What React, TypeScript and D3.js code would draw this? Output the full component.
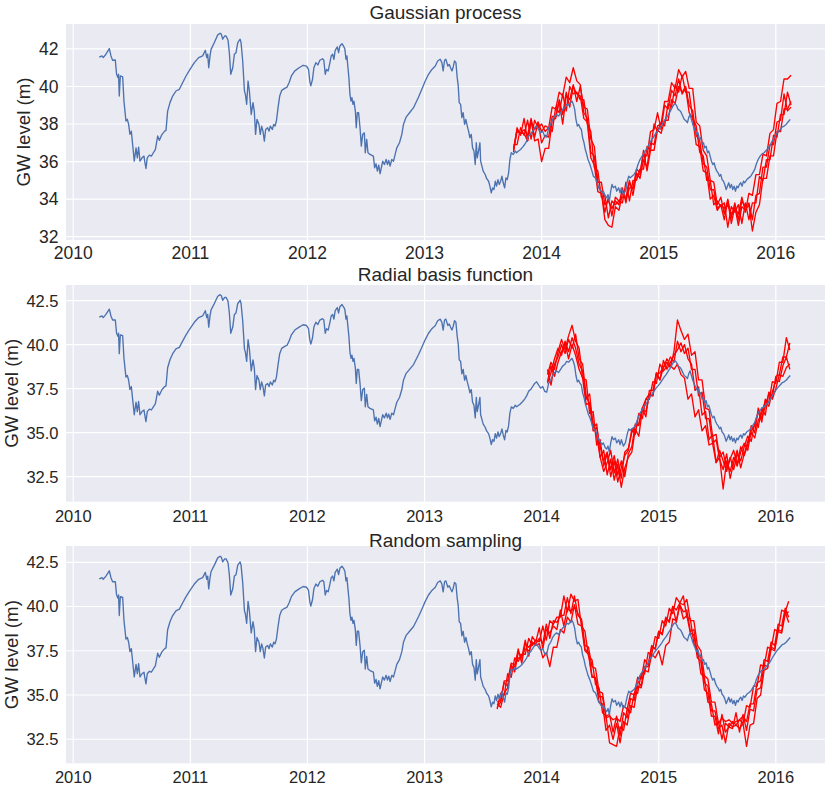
import React from 'react';
import * as d3 from 'd3';

// ---------- DATA ----------
// observed groundwater level: [decimal year, level (m)]
const observed: [number, number][] = [
[2010.222,41.56],[2010.245,41.63],[2010.256,41.54],[2010.279,41.72],[2010.308,42.02],[2010.322,41.63],[2010.336,41.40],[2010.359,41.41],[2010.370,40.65],[2010.382,40.47],[2010.387,40.65],[2010.393,39.49],[2010.402,40.56],[2010.422,40.51],[2010.433,39.22],[2010.450,38.16],[2010.462,38.25],[2010.473,37.98],[2010.484,37.45],[2010.496,37.62],[2010.507,36.91],[2010.521,36.02],[2010.536,36.73],[2010.547,36.20],[2010.558,36.77],[2010.570,36.02],[2010.587,36.20],[2010.604,36.29],[2010.610,36.02],[2010.621,35.63],[2010.632,36.20],[2010.650,36.34],[2010.667,36.29],[2010.684,36.47],[2010.701,36.64],[2010.721,37.36],[2010.735,37.13],[2010.758,37.45],[2010.781,37.62],[2010.792,37.66],[2010.806,38.69],[2010.826,39.14],[2010.849,39.49],[2010.877,39.76],[2010.906,39.85],[2010.934,40.20],[2010.963,40.56],[2010.997,40.91],[2011.034,41.27],[2011.071,41.54],[2011.105,41.63],[2011.128,41.93],[2011.140,41.54],[2011.148,41.72],[2011.157,41.00],[2011.168,41.63],[2011.177,41.98],[2011.205,42.34],[2011.234,42.75],[2011.254,42.84],[2011.265,42.78],[2011.276,42.52],[2011.293,42.69],[2011.305,42.69],[2011.322,42.46],[2011.333,41.80],[2011.345,40.65],[2011.362,41.00],[2011.376,41.72],[2011.390,41.80],[2011.405,42.34],[2011.425,42.52],[2011.433,42.34],[2011.447,41.36],[2011.462,39.76],[2011.470,39.58],[2011.481,39.05],[2011.493,40.29],[2011.504,39.76],
[2011.520,38.51],[2011.535,39.14],[2011.546,38.69],[2011.557,37.45],[2011.569,38.25],[2011.586,37.98],[2011.597,37.45],[2011.609,37.89],[2011.620,37.62],[2011.632,37.09],[2011.643,37.71],[2011.660,37.80],[2011.672,37.62],[2011.683,37.89],[2011.700,37.71],[2011.712,37.98],[2011.723,37.89],[2011.735,38.16],[2011.749,38.87],[2011.763,39.49],[2011.780,39.79],[2011.806,39.90],[2011.826,39.97],[2011.843,40.20],[2011.863,40.56],[2011.892,40.83],[2011.929,41.00],[2011.963,41.13],[2011.992,41.09],[2012.009,40.91],[2012.020,40.29],[2012.029,40.03],[2012.043,40.38],[2012.055,41.00],[2012.072,41.27],[2012.089,41.15],[2012.106,41.40],[2012.129,41.48],[2012.140,41.40],[2012.152,40.65],[2012.163,40.91],[2012.177,40.83],[2012.192,41.27],[2012.203,41.63],[2012.215,41.72],[2012.226,41.45],[2012.237,41.93],[2012.255,42.11],[2012.266,41.80],[2012.277,42.16],[2012.295,42.28],[2012.312,42.11],[2012.320,41.98],[2012.329,41.45],[2012.337,41.63],[2012.346,41.00],[2012.354,40.47],[2012.363,39.58],[2012.372,39.22],[2012.380,39.40],[2012.389,39.05],[2012.397,39.22],[2012.409,38.69],[2012.417,37.80],[2012.426,38.60],[2012.437,38.60],[2012.449,37.80],[2012.460,36.82],[2012.472,37.45],[2012.486,37.53],[2012.494,36.47],[2012.506,37.18],[2012.517,36.47],[2012.534,36.38],[2012.563,36.29],[2012.574,35.67],[2012.586,35.88],[2012.597,35.49],[2012.609,35.81],[2012.620,35.35],[2012.631,35.67],[2012.643,36.02],[2012.657,35.84],[2012.672,36.11],[2012.683,35.84],[2012.694,36.06],[2012.706,35.76],[2012.720,36.11],[2012.735,36.02],[2012.749,36.38],[2012.763,36.73],[2012.786,37.00],[2012.806,37.45],[2012.820,37.98],[2012.843,38.37],[2012.872,38.60],[2012.906,38.87],[2012.949,39.44],[2012.977,39.85],[2013.006,40.29],[2013.034,40.65],[2013.063,40.91],[2013.092,41.09],[2013.112,41.36],[2013.134,41.45],
[2013.148,41.27],[2013.159,40.83],[2013.171,41.40],[2013.182,41.45],[2013.199,41.09],[2013.211,41.18],[2013.222,41.00],[2013.234,40.83],[2013.245,41.04],[2013.256,41.36],[2013.268,41.27],[2013.279,40.47],[2013.288,40.03],[2013.296,39.14],[2013.308,39.05],[2013.319,38.34],[2013.330,38.60],[2013.342,37.98],[2013.353,38.25],[2013.365,37.89],[2013.376,37.62],[2013.387,37.27],[2013.399,37.45],[2013.410,36.73],[2013.422,36.56],[2013.433,35.84],[2013.442,37.00],[2013.450,36.20],[2013.461,36.56],[2013.473,37.00],[2013.479,36.02],[2013.490,35.76],[2013.501,35.49],[2013.518,35.31],[2013.530,35.10],[2013.547,34.95],[2013.558,34.69],[2013.570,34.33],[2013.581,34.60],[2013.593,34.51],[2013.604,34.95],[2013.615,34.69],[2013.627,35.04],[2013.638,34.78],[2013.650,34.95],[2013.661,35.22],[2013.672,34.87],[2013.684,34.60],[2013.695,35.13],[2013.706,35.04],[2013.718,35.40],[2013.729,36.11],[2013.741,36.47],[2013.758,36.38],[2013.775,36.56],[2013.786,36.47],[2013.803,36.56],[2013.820,36.64],[2013.838,36.77],[2013.855,36.91],[2013.872,37.09],[2013.889,37.36],[2013.906,37.45],[2013.923,37.62],[2013.940,37.80],[2013.957,37.89],[2013.974,37.71],[2013.991,37.53],[2014.009,37.62],[2014.026,37.35],[2014.043,37.30],[2014.060,37.80],[2014.077,37.98],[2014.094,38.25],[2014.111,38.42],[2014.128,38.51],[2014.145,38.42],[2014.162,38.60],[2014.179,38.78],[2014.197,38.87],[2014.214,39.05],[2014.231,39.01],[2014.248,39.14],[2014.259,39.22],[2014.271,39.05],[2014.282,38.78],[2014.293,38.25],[2014.305,37.89],[2014.316,37.98],[2014.328,37.80],[2014.339,37.71],[2014.350,37.27],[2014.362,37.00],[2014.373,36.64],[2014.385,36.38],[2014.396,36.11],[2014.413,35.84],[2014.430,35.49],[2014.442,35.22],[2014.459,35.13],[2014.470,34.95],[2014.487,34.60],[2014.498,34.51],[2014.516,34.33],[2014.527,34.42],[2014.544,34.15],[2014.556,34.07],[2014.567,34.24],[2014.578,33.89],[2014.590,34.42],[2014.601,34.78],[2014.613,34.60],[2014.630,34.69],[2014.641,34.42],[2014.658,34.60],[2014.670,34.33],[2014.681,34.60],[2014.698,34.24],[2014.715,34.42],[2014.732,34.95],[2014.744,35.22],[2014.755,35.13],
[2014.772,35.22],[2014.789,35.31],[2014.806,35.49],[2014.823,35.84],[2014.840,36.11],[2014.858,36.29],[2014.875,36.47],[2014.892,36.64],[2014.909,36.82],[2014.926,37.05],[2014.943,37.18],[2014.960,37.36],[2014.977,37.53],[2014.994,37.66],[2015.011,37.80],[2015.029,37.98],[2015.046,38.16],[2015.063,38.30],[2015.080,38.48],[2015.097,38.66],[2015.114,38.87],[2015.131,39.05],[2015.142,39.08],[2015.154,38.96],[2015.165,38.78],[2015.177,38.73],[2015.188,38.66],[2015.199,38.51],[2015.217,38.25],[2015.234,38.16],[2015.245,38.07],[2015.256,38.34],[2015.268,38.51],[2015.279,38.25],[2015.291,37.98],[2015.302,37.80],[2015.313,37.62],[2015.325,37.45],[2015.336,37.53],[2015.348,37.18],[2015.359,37.27],[2015.370,36.91],[2015.382,37.00],[2015.393,36.73],[2015.405,36.82],[2015.416,36.47],[2015.427,36.56],[2015.439,36.29],[2015.450,36.02],[2015.462,35.84],[2015.473,35.93],[2015.484,35.67],[2015.496,35.49],[2015.507,35.40],[2015.519,35.22],[2015.530,35.31],[2015.541,35.04],[2015.553,34.95],[2015.564,34.78],[2015.576,34.51],[2015.587,34.69],[2015.598,34.87],[2015.610,34.60],[2015.621,34.78],[2015.632,34.51],[2015.644,34.69],[2015.655,34.42],[2015.667,34.69],[2015.678,34.60],[2015.689,34.78],[2015.701,34.87],[2015.712,34.69],[2015.724,34.95],[2015.735,34.87],[2015.752,35.04],[2015.769,35.13],[2015.786,35.22],[2015.803,35.40],[2015.820,35.58],[2015.832,35.84],[2015.849,36.11],[2015.866,36.29],[2015.883,36.41],[2015.900,36.47],[2015.917,36.59],[2015.934,36.70],[2015.952,36.88],[2015.969,37.09],[2015.986,37.27],[2016.003,37.45],[2016.020,37.59],[2016.037,37.71],[2016.054,37.84],[2016.071,37.89],[2016.088,37.98],[2016.106,38.12],[2016.123,38.25]
];

const yearTicks = [2010, 2011, 2012, 2013, 2014, 2015, 2016];
const gpLevelTicks = [32, 34, 36, 38, 40, 42];
const rbfLevelTicks = [32.5, 35.0, 37.5, 40.0, 42.5];
const rsLevelTicks = [32.5, 35.0, 37.5, 40.0, 42.5];

const titles = ['Gaussian process', 'Radial basis function', 'Random sampling'];
const yLabel = 'GW level (m)';

// forecast runs: first date and spacing (years) of the simulated dates
const forecastStep = 0.03;
const gpStart = 2013.76;
const rbfStart = 2014.05;
const rsStart = 2013.62;

const gpRuns: number[][] = [
  [36.6,37.6,37.5,37.5,37.1,38.2,37.1,37.2,36.0,36.7,
   36.7,38.2,38.3,39.2,38.0,39.5,39.3,40.1,39.2,40.0,
   38.9,38.8,37.2,36.8,34.9,34.9,33.7,33.9,33.5,33.9,
   33.7,34.6,33.8,34.9,34.5,35.6,35.4,36.4,36.3,37.6,
   37.7,38.6,37.7,39.0,38.8,39.8,39.5,40.4,39.6,39.9,
   38.6,38.3,36.9,36.8,35.5,35.4,34.0,34.2,33.4,33.7,
   33.5,33.7,33.2,33.5,33.2,34.1,33.3,34.3,34.2,35.3,
   35.3,36.4,36.3,37.5,37.7,39.1,39.2,40.4,40.4,40.6],
  [36.5,37.8,37.4,38.3,37.1,38.1,37.7,38.1,37.6,37.9,
   37.8,38.9,38.8,39.7,39.5,40.5,40.2,41.0,40.3,40.1,
   38.6,38.3,36.5,36.3,34.7,34.4,32.9,32.6,32.5,33.6,
   33.4,34.3,34.0,34.6,34.6,35.4,35.1,36.1,35.7,37.0,
   36.9,37.9,38.0,39.2,39.2,40.2,39.9,40.9,40.5,40.8,
   39.9,39.9,38.1,37.9,36.6,36.3,35.0,34.9,33.7,34.1,
   33.2,34.0,33.0,33.8,32.9,33.9,33.6,33.8,32.9,34.2,
   34.3,35.7,35.7,36.9,36.9,38.1,38.2,39.6,38.7,38.9],
  [36.9,36.9,37.8,37.4,38.2,37.2,38.2,37.8,38.0,37.6,
   37.8,37.6,38.9,38.6,39.6,38.7,40.0,39.6,39.7,39.3,
   39.3,38.0,37.6,35.7,35.5,34.1,34.2,33.0,33.9,33.7,
   33.9,33.8,34.9,33.9,35.0,35.0,35.6,35.6,36.8,36.6,
   38.0,37.6,38.1,37.9,39.1,38.9,40.1,39.7,40.6,39.7,
   39.7,38.3,37.9,36.5,36.3,35.0,35.0,33.7,33.9,33.6,
   33.8,32.5,33.6,33.3,33.7,32.7,33.8,32.9,33.8,33.8,
   35.2,35.0,36.1,36.1,37.4,37.3,38.5,38.5,39.7,39.0],
  [36.7,37.7,37.5,37.7,37.4,38.3,37.3,38.1,37.0,37.4,
   37.3,38.4,38.4,39.3,38.5,39.7,38.9,40.0,39.6,39.5,
   38.3,38.1,36.2,35.8,34.4,34.3,33.3,34.1,33.1,34.1,
   33.9,34.1,34.1,35.0,34.2,35.3,35.3,36.6,35.5,36.6,
   36.6,37.7,37.5,38.2,38.2,39.3,39.1,40.0,39.7,40.0,
   39.0,38.7,37.4,37.1,35.9,35.7,34.5,34.5,33.5,33.7,
   32.9,33.9,32.7,33.6,32.6,33.6,33.4,33.7,32.3,33.3,
   33.7,35.1,35.1,36.3,36.3,37.6,37.6,38.8,38.8,39.2],
];

const rbfRuns: number[][] = [
  [38.3,39.0,38.6,39.6,40.3,39.7,40.5,41.1,40.2,39.8,
   38.1,38.0,36.1,36.2,34.3,34.6,33.1,33.8,32.5,33.4,
   32.2,33.0,33.7,34.0,35.2,34.9,36.1,35.8,36.9,36.9,
   37.9,37.8,38.9,38.5,38.8,39.3,39.0,40.2,39.6,40.0,
   39.2,38.9,37.4,37.6,36.0,36.2,34.6,34.9,33.3,33.6,
   31.8,33.4,32.8,33.6,33.1,33.9,34.4,34.0,35.1,35.4,
   36.2,35.6,36.9,36.7,37.9,37.8,39.0,39.0,40.4,39.7],
  [37.8,38.4,39.2,39.8,39.4,40.2,39.6,40.4,39.8,38.9,
   38.5,36.9,37.2,35.3,35.5,33.6,34.0,32.6,33.5,32.3,
   33.2,31.9,33.0,33.6,33.9,35.2,34.8,36.3,36.2,37.1,
   37.1,38.3,38.4,38.7,39.0,38.7,39.6,41.4,40.8,40.3,
   40.6,39.4,39.6,38.0,38.0,36.4,36.3,34.8,34.9,33.6,
   33.9,33.0,33.6,32.9,33.8,33.4,34.2,34.8,34.5,35.6,
   35.3,36.4,36.0,37.3,37.0,38.2,38.3,39.3,39.3,40.1],
  [38.6,37.7,38.9,39.3,40.0,39.5,40.3,39.8,40.6,39.2,
   38.9,37.1,36.6,35.1,35.3,34.2,33.4,33.9,32.9,33.7,
   32.6,33.4,32.5,33.8,34.2,35.5,35.4,36.4,35.9,37.4,
   37.4,38.4,38.0,39.1,38.6,39.0,39.4,39.7,40.1,39.5,
   39.8,38.6,38.6,37.1,37.3,35.8,35.8,34.4,34.6,33.5,
   32.9,33.8,32.4,33.3,34.0,33.0,33.8,34.5,35.0,34.7,
   35.7,36.1,36.8,36.5,37.3,38.0,37.9,38.8,39.3,38.6],
  [37.9,38.8,38.2,39.0,39.6,40.1,39.2,40.0,39.4,38.6,
   38.1,36.6,36.7,35.5,34.8,33.6,32.8,33.3,34.0,32.7,
   33.5,32.4,33.9,34.1,35.0,35.4,35.5,36.4,36.9,37.2,
   37.1,38.4,38.0,38.7,39.2,38.8,38.6,38.9,38.3,38.1,
   36.9,37.2,35.9,36.3,35.1,35.4,34.3,34.4,33.3,34.0,
   33.4,32.8,33.5,34.0,33.2,34.2,33.7,34.3,35.4,35.0,
   36.4,35.8,36.5,37.2,36.9,37.5,38.3,38.2,38.7,38.9],
];

const rsRuns: number[][] = [
  [34.2,35.1,35.0,36.2,36.0,37.1,36.9,37.3,37.3,38.2,
   37.8,38.1,38.0,38.9,38.1,39.2,39.0,39.4,39.4,40.6,
   39.7,40.7,40.3,40.4,38.9,38.6,37.2,37.0,35.6,35.4,
   34.0,33.8,32.3,32.2,32.1,33.2,33.0,34.2,34.0,35.1,
   35.1,36.2,36.2,37.4,37.3,38.3,38.2,39.2,38.9,39.9,
   39.6,40.5,40.2,40.6,39.4,39.3,37.9,37.6,36.2,36.0,
   34.6,34.5,33.3,33.5,32.5,33.4,33.2,33.5,33.3,33.6,
   33.4,34.4,34.3,35.5,35.5,36.7,36.6,37.7,37.6,38.7,
   38.6,39.8,39.7,40.3],
  [34.5,34.3,35.1,35.4,36.7,36.3,37.4,37.2,37.6,37.5,
   37.9,37.9,38.2,37.9,39.0,38.2,39.2,39.1,39.5,39.5,
   40.5,39.6,40.6,39.5,39.3,37.8,37.7,36.6,36.5,35.2,
   35.1,33.8,33.9,32.9,33.8,32.7,34.0,33.7,34.8,34.7,
   35.8,35.5,36.6,36.6,37.7,37.6,38.6,38.4,39.4,39.1,
   40.0,39.8,40.2,40.1,40.4,39.2,39.2,37.8,37.5,36.1,
   35.9,34.6,34.6,33.4,33.7,33.5,33.6,33.4,33.5,33.6,
   33.8,33.5,34.5,34.5,35.7,35.8,37.0,36.9,38.0,37.8,
   39.0,38.9,39.9,39.4],
  [34.3,34.6,35.8,35.8,36.8,36.7,37.1,37.1,38.1,37.2,
   38.3,38.0,38.8,37.6,38.7,38.5,38.9,38.7,39.8,38.9,
   39.9,39.7,40.0,39.6,39.2,37.6,37.4,36.1,35.9,34.6,
   34.5,33.0,33.3,32.5,33.4,32.3,33.5,33.3,34.4,34.3,
   35.5,35.4,36.4,36.3,37.3,37.1,37.5,36.7,37.8,38.0,
   39.3,39.2,40.1,39.7,39.8,38.6,38.7,37.3,37.1,35.7,
   35.5,34.1,34.1,33.1,33.3,32.3,33.4,33.2,33.3,33.1,
   33.4,32.1,33.3,33.4,34.8,35.0,36.4,36.5,37.6,37.5,
   38.6,38.5,39.6,39.7],
  [34.6,34.7,35.7,35.5,36.5,36.6,37.6,36.8,37.9,37.7,
   38.0,37.8,37.9,37.1,37.4,36.6,37.7,37.7,38.7,38.5,
   39.4,39.1,40.1,39.0,38.9,37.5,37.3,36.0,36.0,34.9,
   34.9,33.7,33.8,33.6,33.7,33.5,34.4,34.2,35.1,35.0,
   36.0,35.9,37.0,36.7,37.8,37.6,38.6,38.5,39.3,39.2,
   40.0,39.1,40.1,39.3,39.5,38.5,38.4,37.1,36.9,35.3,
   35.1,33.8,33.8,32.8,33.9,32.9,33.2,33.1,34.0,32.9,
   33.9,33.0,34.2,34.1,35.3,35.4,36.7,36.6,37.7,37.6,
   38.7,38.6,39.7,39.1],
];

// ---------- LAYOUT ----------
const W = 830, H = 791;
const LEFT = 66, RIGHT = 825;
const X_DOMAIN: [number, number] = [2009.938, 2016.42];
const FONT = "'Liberation Sans', Arial, Helvetica, sans-serif";
const TEXT = '#262626';

const panels = [
  { title: titles[0], ticks: gpLevelTicks, fmt: d3.format('d'), start: gpStart, runs: gpRuns,
    top: 24, bottom: 240, yDomain: [31.82, 43.33], tickFont: 17.5, xTickGap: 18.5, labelX: 29.5, titleY: 19 },
  { title: titles[1], ticks: rbfLevelTicks, fmt: d3.format('.1f'), start: rbfStart, runs: rbfRuns,
    top: 285, bottom: 501.7, yDomain: [31.08, 43.39], tickFont: 16.5, xTickGap: 20, labelX: 18, titleY: 280.5 },
  { title: titles[2], ticks: rsLevelTicks, fmt: d3.format('.1f'), start: rsStart, runs: rsRuns,
    top: 546, bottom: 763.3, yDomain: [31.14, 43.42], tickFont: 16.5, xTickGap: 20, labelX: 18, titleY: 547 },
];

function Panel({ p }: { p: typeof panels[number] }) {
  const x = d3.scaleLinear().domain(X_DOMAIN).range([LEFT, RIGHT]);
  const y = d3.scaleLinear().domain(p.yDomain).range([p.bottom, p.top]);
  const line = d3.line<[number, number]>().x(d => x(d[0])).y(d => y(d[1]));
  const runs = p.runs.map(vals => vals.map((v, i) => [p.start + i * forecastStep, v] as [number, number]));
  const cy = (p.top + p.bottom) / 2;
  return (
    <g>
      <rect x={LEFT} y={p.top} width={RIGHT - LEFT} height={p.bottom - p.top} fill="#eaeaf2" />
      {p.ticks.map(t => (
        <line key={'h' + t} x1={LEFT} x2={RIGHT} y1={y(t)} y2={y(t)} stroke="#fff" strokeWidth={1.2} />
      ))}
      {yearTicks.map(t => (
        <line key={'v' + t} x1={x(t)} x2={x(t)} y1={p.top} y2={p.bottom} stroke="#fff" strokeWidth={1.2} />
      ))}
      {runs.map((r, i) => (
        <path key={'r' + i} d={line(r) || ''} fill="none" stroke="#ff0000" strokeWidth={1.35} strokeLinejoin="round" />
      ))}
      <path d={line(observed) || ''} fill="none" stroke="#4c72b0" strokeWidth={1.35} strokeLinejoin="round" />
      {p.ticks.map(t => (
        <text key={'yl' + t} x={LEFT - 7.5} y={y(t)} dy="0.36em" textAnchor="end" fontSize={p.tickFont} fill={TEXT}>
          {p.fmt(t)}
        </text>
      ))}
      {yearTicks.map(t => (
        <text key={'xl' + t} x={x(t)} y={p.bottom + p.xTickGap} textAnchor="middle" fontSize={p.tickFont} fill={TEXT}>
          {t}
        </text>
      ))}
      <text transform={`translate(${p.labelX},${cy}) rotate(-90)`} textAnchor="middle" fontSize={18.7} fill={TEXT}>
        {yLabel}
      </text>
      <text x={(LEFT + RIGHT) / 2} y={p.titleY} textAnchor="middle" fontSize={19} fill={TEXT}>
        {p.title}
      </text>
    </g>
  );
}

export default function App() {
  return (
    <svg width={W} height={H} style={{ position: 'absolute', left: 0, top: 0, background: '#fff' }} fontFamily={FONT}>
      {panels.map((p, i) => <Panel key={i} p={p} />)}
    </svg>
  );
}
